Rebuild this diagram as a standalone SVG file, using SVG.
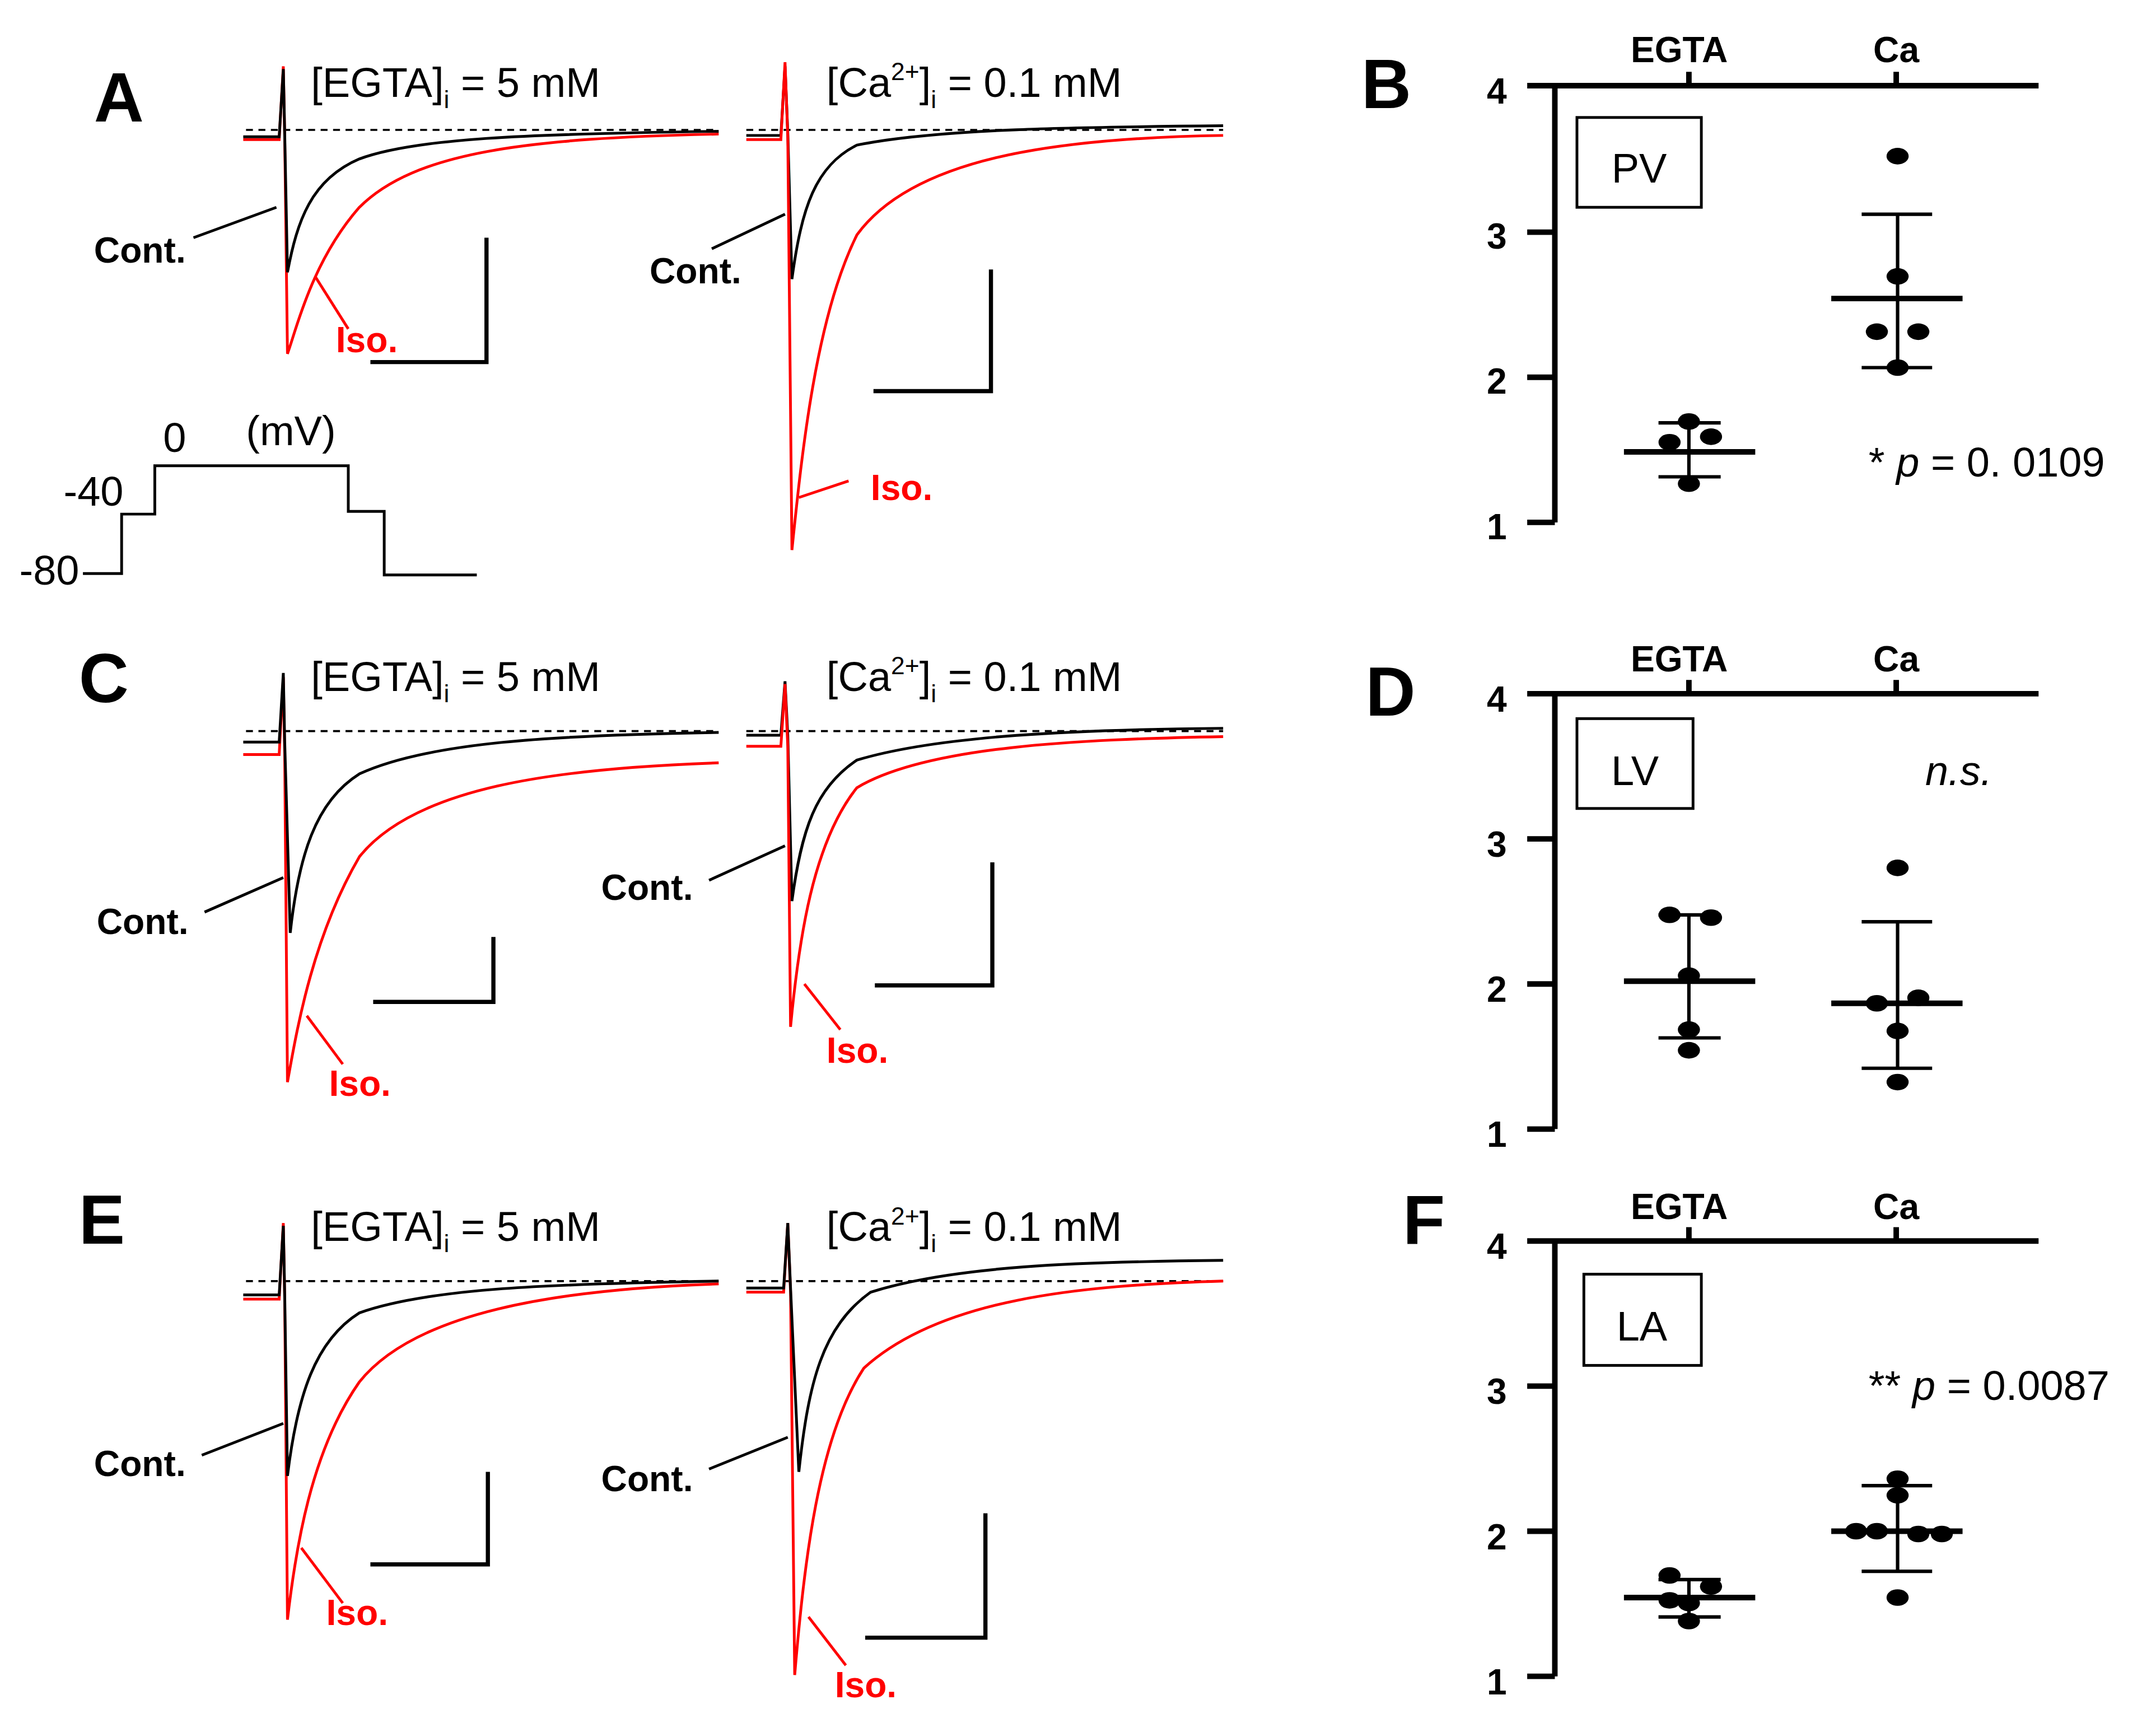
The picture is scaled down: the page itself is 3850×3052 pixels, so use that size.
<svg xmlns="http://www.w3.org/2000/svg" width="3850" height="3052" viewBox="0 0 3850 3052">
<style>
.t{font-family:"Liberation Sans",Arial,sans-serif;font-size:30px;fill:#000}
.L{font-family:"Liberation Sans",Arial,sans-serif;font-size:50px;font-weight:bold}
.lb{font-family:"Liberation Sans",Arial,sans-serif;font-size:26px;font-weight:bold}
.r{fill:#f00}
.k{fill:none;stroke:#000;stroke-width:2}
.rd{fill:none;stroke:#f00;stroke-width:2}
.ds{fill:none;stroke:#000;stroke-width:1.5;stroke-dasharray:5,4}
.sb{fill:none;stroke:#000;stroke-width:3}
.ax{fill:none;stroke:#000;stroke-width:4}
.ln{fill:none;stroke:#000;stroke-width:2}
.lr{fill:none;stroke:#f00;stroke-width:2}
.eb{fill:none;stroke:#000;stroke-width:2.5}
.mn{fill:none;stroke:#000;stroke-width:4}
</style>
<rect width="3850" height="3052" fill="#fff"/>
<g transform="scale(2.468)">
<g id="panelA">
<text class="L" x="68" y="88">A</text>
<text class="t" x="225" y="70">[EGTA]<tspan font-size="18" dy="8">i</tspan><tspan dy="-8"> = 5 mM</tspan></text>
<path class="ds" d="M178,94 H520"/>
<path class="rd" d="M176,101 H202 L205,48 L206,99 L208,256 C214,240 225,190 260,150 C300,110 380,100 520,97"/>
<path class="k" d="M176,99 H202 L205,50 L206,97 L208,197 C215,160 225,130 260,115 C300,100 380,97 520,95"/>
<path class="sb" d="M352,172 V262 H268"/>
<text class="lb" x="68" y="190">Cont.</text><path class="ln" d="M140,172 L200,150"/>
<text class="lb r" x="243" y="255">Iso.</text><path class="lr" d="M228,200 L252,238"/>
<path class="ln" d="M60,415 H88 V372 H112 V337 H252 V370 H278 V416 H345"/>
<text class="t" x="14" y="423" font-size="28">-80</text>
<text class="t" x="46" y="366" font-size="28">-40</text>
<text class="t" x="118" y="327" font-size="28">0</text>
<text class="t" x="178" y="322" font-size="28">(mV)</text>
</g>
<g id="panelA2">
<text class="t" x="598" y="70">[Ca<tspan font-size="18" dy="-12">2+</tspan><tspan dy="12">]</tspan><tspan font-size="18" dy="8">i</tspan><tspan dy="-8"> = 0.1 mM</tspan></text>
<path class="ds" d="M540,94 H885"/>
<path class="k" d="M540,98 H565 L568,48 L570,96 L573,202 C580,150 590,120 620,105 C680,93 780,92 885,91"/>
<path class="rd" d="M540,101 H565 L568,45 L570,99 L573,398 C580,330 590,230 620,170 C660,115 760,100 885,98"/>
<path class="sb" d="M717,195 V283 H632"/>
<text class="lb" x="470" y="205">Cont.</text><path class="ln" d="M515,180 L568,155"/>
<text class="lb r" x="630" y="362">Iso.</text><path class="lr" d="M578,360 L614,348"/>
</g>
<g id="panelC">
<text class="L" x="57" y="508">C</text>
<text class="t" x="225" y="500">[EGTA]<tspan font-size="18" dy="8">i</tspan><tspan dy="-8"> = 5 mM</tspan></text>
<path class="ds" d="M178,529 H520"/>
<path class="rd" d="M176,546 H202 L205,490 L206,546 L208,783 C214,750 225,680 260,620 C300,570 400,556 520,552"/>
<path class="k" d="M176,537 H202 L205,487 L206,537 L210,675 C216,620 228,580 260,560 C310,537 400,532 520,530"/>
<path class="sb" d="M357,678 V725 H270"/>
<text class="lb" x="70" y="676">Cont.</text><path class="ln" d="M148,660 L205,635"/>
<text class="lb r" x="238" y="793">Iso.</text><path class="lr" d="M222,735 L248,770"/>
</g>
<g id="panelC2">
<text class="t" x="598" y="500">[Ca<tspan font-size="18" dy="-12">2+</tspan><tspan dy="12">]</tspan><tspan font-size="18" dy="8">i</tspan><tspan dy="-8"> = 0.1 mM</tspan></text>
<path class="ds" d="M540,529 H885"/>
<path class="k" d="M540,532 H565 L568,493 L570,532 L573,652 C580,600 590,570 620,550 C680,532 780,528 885,527"/>
<path class="rd" d="M540,540 H565 L568,495 L570,540 L572,743 C578,680 588,610 620,570 C670,540 780,535 885,533"/>
<path class="sb" d="M718,624 V713 H633"/>
<text class="lb" x="435" y="651">Cont.</text><path class="ln" d="M513,637 L568,612"/>
<text class="lb r" x="598" y="769">Iso.</text><path class="lr" d="M582,712 L608,745"/>
</g>
<g id="panelE">
<text class="L" x="57" y="900">E</text>
<text class="t" x="225" y="898">[EGTA]<tspan font-size="18" dy="8">i</tspan><tspan dy="-8"> = 5 mM</tspan></text>
<path class="ds" d="M178,927 H520"/>
<path class="rd" d="M176,940 H202 L205,885 L206,940 L208,1172 C214,1120 225,1050 260,1000 C300,950 400,933 520,929"/>
<path class="k" d="M176,937 H202 L205,887 L206,937 L208,1068 C215,1010 228,970 260,950 C310,932 400,929 520,927"/>
<path class="sb" d="M353,1065 V1132 H268"/>
<text class="lb" x="68" y="1068">Cont.</text><path class="ln" d="M146,1053 L205,1030"/>
<text class="lb r" x="236" y="1176">Iso.</text><path class="lr" d="M218,1120 L248,1160"/>
</g>
<g id="panelE2">
<text class="t" x="598" y="898">[Ca<tspan font-size="18" dy="-12">2+</tspan><tspan dy="12">]</tspan><tspan font-size="18" dy="8">i</tspan><tspan dy="-8"> = 0.1 mM</tspan></text>
<path class="ds" d="M540,927 H885"/>
<path class="rd" d="M540,935 H567 L570,885 L572,935 L575,1212 C582,1130 592,1040 625,990 C680,940 780,930 885,927"/>
<path class="k" d="M540,932 H567 L570,885 L572,932 L578,1065 C585,1000 595,960 630,935 C690,916 780,913 885,912"/>
<path class="sb" d="M713,1095 V1185 H626"/>
<text class="lb" x="435" y="1079">Cont.</text><path class="ln" d="M513,1063 L570,1040"/>
<text class="lb r" x="604" y="1228">Iso.</text><path class="lr" d="M585,1170 L612,1205"/>
</g>
<g id="panelB">
<text class="L" x="985" y="78">B</text>
<path class="ax" d="M1105,62 H1475 M1125,62 V378 M1105,168 H1125 M1105,273 H1125 M1105,378 H1125 M1222,62 V52 M1372,62 V52"/>
<g class="lb" text-anchor="middle" font-size="28"><text x="1083" y="75">4</text><text x="1083" y="180">3</text><text x="1083" y="285">2</text><text x="1083" y="390">1</text><text x="1215" y="45">EGTA</text><text x="1372" y="45">Ca</text></g>
<rect x="1141" y="85" width="90" height="65" fill="none" stroke="#000" stroke-width="2"/>
<text class="t" x="1186" y="132" font-size="40" text-anchor="middle">PV</text>
<path class="mn" d="M1175,327 H1270 M1325,216 H1420"/>
<path class="eb" d="M1222,306 V345 M1200,306 H1245 M1200,345 H1245 M1373,155 V266 M1347,155 H1398 M1347,266 H1398"/>
<g fill="#000"><ellipse cx="1222" cy="305" rx="8" ry="6"/><ellipse cx="1208" cy="320" rx="8" ry="6"/><ellipse cx="1238" cy="316" rx="8" ry="6"/><ellipse cx="1222" cy="350" rx="8" ry="6"/><ellipse cx="1373" cy="113" rx="8" ry="6"/><ellipse cx="1373" cy="200" rx="8" ry="6"/><ellipse cx="1358" cy="240" rx="8" ry="6"/><ellipse cx="1388" cy="240" rx="8" ry="6"/><ellipse cx="1373" cy="266" rx="8" ry="6"/></g>
<text class="t" x="1352" y="345">* <tspan font-style="italic">p</tspan> = 0. 0109</text>
</g>
<g id="panelD">
<text class="L" x="988" y="518">D</text>
<path class="ax" d="M1105,502 H1475 M1125,502 V817 M1105,607 H1125 M1105,712 H1125 M1105,817 H1125 M1222,502 V492 M1372,502 V492"/>
<g class="lb" text-anchor="middle" font-size="28"><text x="1083" y="515">4</text><text x="1083" y="620">3</text><text x="1083" y="725">2</text><text x="1083" y="830">1</text><text x="1215" y="486">EGTA</text><text x="1372" y="486">Ca</text></g>
<rect x="1141" y="520" width="84" height="65" fill="none" stroke="#000" stroke-width="2"/>
<text class="t" x="1183" y="568" font-size="40" text-anchor="middle">LV</text>
<text class="t" x="1393" y="568" font-style="italic">n.s.</text>
<path class="mn" d="M1175,710 H1270 M1325,726 H1420"/>
<path class="eb" d="M1222,662 V751 M1200,662 H1245 M1200,751 H1245 M1373,667 V773 M1347,667 H1398 M1347,773 H1398"/>
<g fill="#000"><ellipse cx="1208" cy="662" rx="8" ry="6"/><ellipse cx="1238" cy="664" rx="8" ry="6"/><ellipse cx="1222" cy="706" rx="8" ry="6"/><ellipse cx="1222" cy="745" rx="8" ry="6"/><ellipse cx="1222" cy="760" rx="8" ry="6"/><ellipse cx="1373" cy="628" rx="8" ry="6"/><ellipse cx="1358" cy="726" rx="8" ry="6"/><ellipse cx="1388" cy="722" rx="8" ry="6"/><ellipse cx="1373" cy="746" rx="8" ry="6"/><ellipse cx="1373" cy="783" rx="8" ry="6"/></g>
</g>
<g id="panelF">
<text class="L" x="1015" y="900">F</text>
<path class="ax" d="M1105,898 H1475 M1125,898 V1213 M1105,1003 H1125 M1105,1108 H1125 M1105,1213 H1125 M1222,898 V888 M1372,898 V888"/>
<g class="lb" text-anchor="middle" font-size="28"><text x="1083" y="911">4</text><text x="1083" y="1016">3</text><text x="1083" y="1121">2</text><text x="1083" y="1226">1</text><text x="1215" y="882">EGTA</text><text x="1372" y="882">Ca</text></g>
<rect x="1146" y="922" width="85" height="66" fill="none" stroke="#000" stroke-width="2"/>
<text class="t" x="1188" y="970" font-size="40" text-anchor="middle">LA</text>
<text class="t" x="1352" y="1013">** <tspan font-style="italic">p</tspan> = 0.0087</text>
<path class="mn" d="M1175,1156 H1270 M1325,1108 H1420"/>
<path class="eb" d="M1222,1143 V1170 M1200,1143 H1245 M1200,1170 H1245 M1373,1075 V1137 M1347,1075 H1398 M1347,1137 H1398"/>
<g fill="#000"><ellipse cx="1208" cy="1140" rx="8" ry="6"/><ellipse cx="1238" cy="1148" rx="8" ry="6"/><ellipse cx="1222" cy="1160" rx="8" ry="6"/><ellipse cx="1208" cy="1158" rx="8" ry="6"/><ellipse cx="1222" cy="1173" rx="8" ry="6"/><ellipse cx="1373" cy="1070" rx="8" ry="6"/><ellipse cx="1373" cy="1082" rx="8" ry="6"/><ellipse cx="1343" cy="1108" rx="8" ry="6"/><ellipse cx="1358" cy="1108" rx="8" ry="6"/><ellipse cx="1388" cy="1110" rx="8" ry="6"/><ellipse cx="1405" cy="1110" rx="8" ry="6"/><ellipse cx="1373" cy="1156" rx="8" ry="6"/></g>
</g>
</g>
</svg>
